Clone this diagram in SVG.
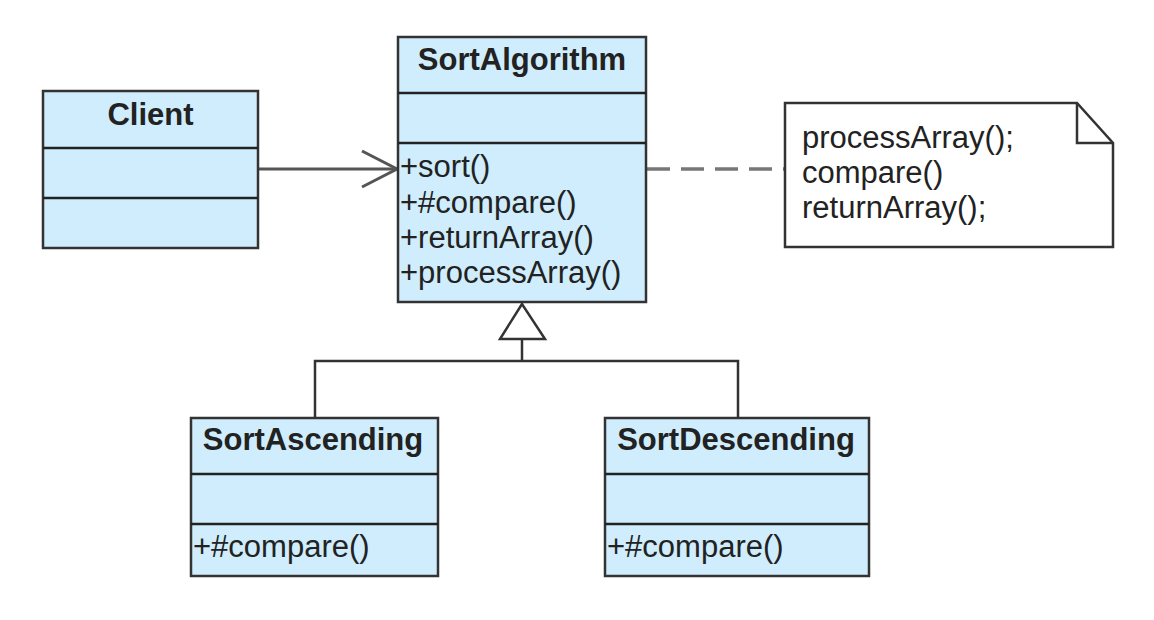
<svg xmlns="http://www.w3.org/2000/svg" width="1154" height="620" viewBox="0 0 1154 620">
<style>
.box{fill:#cfedfc;stroke:#333;stroke-width:2.5}
.div{stroke:#222;stroke-width:2.5}
.title{font-family:"Liberation Sans",Arial,sans-serif;font-weight:bold;font-size:31px;fill:#222;text-anchor:middle}
.m{font-family:"Liberation Sans",Arial,sans-serif;font-size:31px;fill:#222}
.conn{fill:none;stroke:#333;stroke-width:2.5}
</style>
<rect width="1154" height="620" fill="#fff"/>
<g id="connectors">
<line x1="258" y1="169" x2="397" y2="169" stroke="#555" stroke-width="3"/>
<polyline points="362,151 397,169 362,187" fill="none" stroke="#555" stroke-width="3"/>
<line x1="647" y1="169" x2="784" y2="169" stroke="#777" stroke-width="3.5" stroke-dasharray="23 11"/>
<polyline class="conn" points="315,417 315,361 738,361 738,417"/>
<line class="conn" x1="522" y1="361" x2="522" y2="339"/>
<polygon points="522,304 500,339 545,339" fill="#fff" stroke="#333" stroke-width="2.5"/>
</g>
<g id="client">
<rect class="box" x="43" y="91" width="215" height="157"/>
<line class="div" x1="43" y1="148" x2="258" y2="148"/>
<line class="div" x1="43" y1="198" x2="258" y2="198"/>
<text class="title" x="150.5" y="125">Client</text>
</g>
<g id="sortalgorithm">
<rect class="box" x="398" y="37" width="248" height="265"/>
<line class="div" x1="398" y1="93" x2="646" y2="93"/>
<line class="div" x1="398" y1="143" x2="646" y2="143"/>
<text class="title" x="522" y="70">SortAlgorithm</text>
<text class="m" x="400" y="177">+sort()</text>
<text class="m" x="400" y="213">+#compare()</text>
<text class="m" x="400" y="248">+returnArray()</text>
<text class="m" x="400" y="283">+processArray()</text>
</g>
<g id="note">
<path d="M785,103 L1077,103 L1113,143 L1113,247 L785,247 Z" fill="#fff" stroke="#333" stroke-width="2.5"/>
<path d="M1077,103 L1077,143 L1113,143" fill="none" stroke="#333" stroke-width="2.5"/>
<text class="m" x="802" y="148">processArray();</text>
<text class="m" x="802" y="183">compare()</text>
<text class="m" x="802" y="218">returnArray();</text>
</g>
<g id="sortascending">
<rect class="box" x="191" y="418" width="247" height="158"/>
<line class="div" x1="191" y1="474" x2="438" y2="474"/>
<line class="div" x1="191" y1="524" x2="438" y2="524"/>
<text class="title" x="313" y="450">SortAscending</text>
<text class="m" x="193" y="557">+#compare()</text>
</g>
<g id="sortdescending">
<rect class="box" x="605" y="418" width="264" height="158"/>
<line class="div" x1="605" y1="474" x2="869" y2="474"/>
<line class="div" x1="605" y1="524" x2="869" y2="524"/>
<text class="title" x="736" y="450">SortDescending</text>
<text class="m" x="607" y="557">+#compare()</text>
</g>
</svg>
